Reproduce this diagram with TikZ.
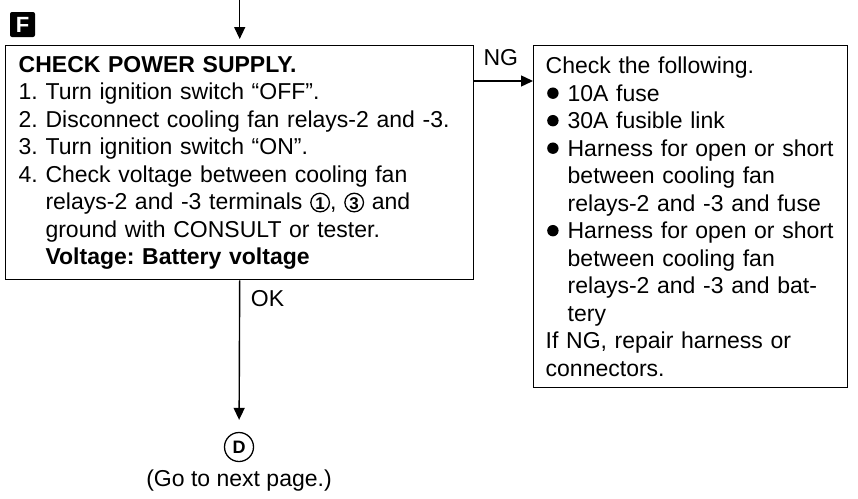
\documentclass[tikz,border=0pt]{standalone}
\usepackage{fontspec}
\setmainfont{Liberation Sans}
\usetikzlibrary{arrows.meta,positioning}
\frenchspacing
\newcommand{\txtsize}{\fontsize{23}{27.5}\selectfont}
\newcommand{\blt}{\hspace*{1.5pt}\tikz[baseline=0pt]\fill (0pt,8pt) circle (5.7pt);\hspace{9pt}}
\newcommand{\cnum}[1]{\makebox[20pt][c]{\tikz[baseline=0pt]\draw[line width=1.3pt] (0pt,7pt) circle (9.3pt);}\hspace*{-20pt}\makebox[20pt][c]{\bfseries\fontsize{17}{17}\selectfont #1}}

\begin{document}
\begin{tikzpicture}[x=1pt, y=-1pt,
 box/.style={draw, line width=1.4pt, anchor=north west, align=left, font=\txtsize, inner ysep=0pt},
 lbl/.style={inner sep=0pt, font=\txtsize},
 arr/.style={-{Triangle[length=12pt,width=11pt]}, line width=1.4pt},
]
 \useasboundingbox (0,0) rectangle (858,498);
 \node[fill=black, text=white, minimum size=25pt, inner sep=0pt, rounded corners=2pt,
       font=\bfseries\fontsize{22}{22}\selectfont] (stepF) at (22.5,24.5) {F};
 \node[box, text width=442pt, inner xsep=13pt, minimum height=234pt] (pwr) at (5,45)
   {{\bfseries CHECK POWER SUPPLY.}\\
    1. Turn ignition switch “OFF”.\\
    2. Disconnect cooling fan relays-2 and -3.\\
    3. Turn ignition switch “ON”.\\
    4. Check voltage between cooling fan\\
    \hphantom{4. }relays-2 and -3 terminals \cnum{1}, \cnum{3} and\\
    \hphantom{4. }ground with CONSULT or tester.\\
    \hphantom{4. }{\bfseries Voltage: Battery voltage}};
 \node[box, text width=290pt, inner xsep=12pt, minimum height=342pt] (chk) at (533,45)
   {Check the following.\\
    \blt 10A fuse\\
    \blt 30A fusible link\\
    \blt Harness for open or short\\
    \hspace*{22pt}between cooling fan\\
    \hspace*{22pt}relays-2 and -3 and fuse\\
    \blt Harness for open or short\\
    \hspace*{22pt}between cooling fan\\
    \hspace*{22pt}relays-2 and -3 and bat-\\
    \hspace*{22pt}tery\\
    If NG, repair harness or\\
    connectors.};
 \coordinate (entry) at (pwr.north |- 0,0);
 \node[draw, circle, line width=1.3pt, minimum size=29pt, inner sep=0pt,
       font=\bfseries\fontsize{18}{18}\selectfont] (goD) at (239,447) {D};
 \node[lbl, below=7pt of goD] (nxt) {(Go to next page.)};

 \draw[arr, shorten >=6pt] (entry) -- (pwr.north);
 \draw[arr] ([yshift=-36pt]pwr.north east) -- ([yshift=-36pt]chk.north west);
 \node[lbl, below right=4pt and 9pt of pwr.north east] (ng) {NG};
 \draw[arr, shorten >=12pt] (pwr.south) -- (goD);
 \node[lbl, below right=10pt and 11pt of pwr.south] (ok) {OK};
\end{tikzpicture}
\end{document}
